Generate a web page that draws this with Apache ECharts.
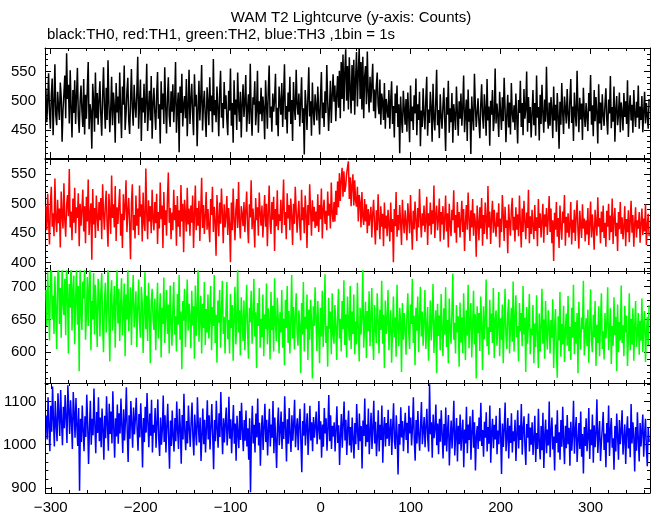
<!DOCTYPE html>
<html><head><meta charset="utf-8">
<script src="https://cdn.jsdelivr.net/npm/echarts@6/dist/echarts.min.js"></script>
<style>html,body{margin:0;padding:0;background:#fff}#c{width:652px;height:515px}</style>
</head><body><div id="c"></div>
<script>
// time of first 1-s bin (seconds)
const xStart = -305;

// TH0 (black) counts per 1-s bin
const th0 = [
521,463,498,547,480,452,509,538,441,496,562,475,458,515,489,467,531,506,430,484,
512,543,470,581,503,527,461,552,488,437,518,479,535,460,507,556,474,445,499,526,
483,455,537,442,510,469,521,566,451,494,481,418,529,500,447,548,470,513,459,502,
533,476,440,508,557,489,452,522,467,569,495,446,485,541,458,514,491,428,530,480,
507,461,548,484,436,524,493,560,450,477,516,539,466,443,499,554,486,457,527,492,
471,513,575,452,494,536,431,505,480,529,462,498,563,448,488,517,466,542,435,495,
522,478,450,509,549,469,494,427,533,485,512,460,557,491,444,503,540,474,455,516,
481,528,463,499,566,445,488,514,412,524,479,546,456,493,508,470,537,439,490,553,
460,500,529,476,441,545,490,510,422,484,534,466,503,561,449,494,517,472,438,523,
497,458,540,482,509,446,571,475,501,463,524,489,439,512,551,471,496,453,532,486,
509,468,441,517,483,555,457,496,428,535,476,502,450,548,491,464,515,437,494,528,
472,498,544,447,486,511,460,563,480,440,506,493,533,458,484,551,445,499,477,522,
465,507,486,434,535,495,452,516,560,471,490,447,512,481,500,546,458,488,439,524,
497,476,530,455,504,562,468,491,444,514,481,541,460,501,431,532,487,467,553,494,
476,512,456,496,540,462,487,408,518,492,450,506,557,473,499,440,531,482,458,511,
490,466,524,483,442,505,549,470,497,455,516,479,561,500,448,487,534,462,508,545,
498,526,465,509,542,488,551,470,566,503,579,482,548,588,500,559,485,574,520,478,
561,500,570,476,537,583,490,549,590,503,566,485,575,470,540,559,494,584,515,480,
541,497,528,563,482,519,470,524,548,493,477,536,459,512,498,467,530,452,503,486,
471,518,452,500,533,460,491,437,512,479,526,455,494,410,507,468,445,517,486,459,
503,447,514,474,429,526,465,490,450,509,478,538,441,494,467,515,422,483,455,521,
476,451,502,541,440,485,462,515,488,430,529,471,449,497,553,458,484,436,511,474,
452,490,522,466,414,506,476,534,445,487,463,513,428,494,474,450,524,480,440,499,
469,512,457,488,543,446,477,502,431,519,464,486,409,507,473,449,546,492,455,481,
504,463,436,492,528,474,452,511,484,440,537,466,490,423,500,476,518,448,470,555,
461,495,474,438,515,481,450,506,465,539,488,429,477,510,454,497,442,530,478,463,
492,450,512,472,427,501,479,534,455,496,441,520,469,485,550,447,506,462,489,437,
478,518,458,496,440,543,471,489,432,510,460,527,480,445,502,464,558,475,452,497,
457,506,484,436,524,466,493,447,513,474,418,498,459,530,480,443,507,487,461,520,
477,452,501,537,462,490,431,514,479,456,551,484,446,505,468,495,433,522,476,455,
496,473,448,513,482,544,459,492,439,518,465,506,478,427,528,461,497,450,511,476,
457,494,521,468,442,502,478,542,453,489,464,524,430,485,508,458,476,514,446,497,
481,449,513,472,499,460,535,438,488,509,466,493,445,518,477,455,498,471,526,452,
490,467,508,446,480,515,461,496,473,452,503
];

// TH1 (red)
const th1 = [
496,455,517,470,431,500,529,461,484,445,543,474,452,507,467,492,426,521,480,458,
535,472,444,498,515,479,559,460,487,438,509,468,527,450,494,476,518,428,500,463,
490,524,453,496,433,512,470,541,447,482,501,405,525,465,493,442,514,478,454,503,
472,510,440,533,484,456,497,522,465,427,517,485,449,548,476,499,460,530,437,494,
466,498,525,446,483,425,516,472,495,540,452,487,510,466,406,500,533,455,481,441,
514,463,492,447,531,478,499,436,519,468,454,560,484,440,506,470,496,450,524,475,
455,503,467,517,432,486,458,536,474,497,425,520,464,489,446,509,553,468,493,440,
485,455,524,472,498,429,513,461,489,444,532,470,500,418,507,483,453,527,465,492,
446,497,468,514,425,482,531,455,493,463,505,437,488,544,459,498,449,479,520,456,
491,461,435,508,481,529,452,495,470,412,515,476,445,502,466,526,484,433,499,460,
480,513,447,493,465,401,502,455,526,473,438,490,508,459,537,470,441,496,482,462,
503,452,488,521,463,433,499,477,540,457,492,467,426,510,472,494,446,519,484,463,
497,443,480,515,461,500,428,485,531,467,449,503,473,512,420,491,462,523,455,482,
471,507,450,492,541,464,486,440,518,475,498,455,509,480,430,500,466,529,488,451,
482,505,461,438,524,472,494,450,514,483,425,498,464,533,488,446,506,470,495,459,
487,462,516,452,498,474,526,441,491,507,466,488,455,521,480,500,458,536,484,469,
503,470,522,481,538,494,552,505,540,561,512,555,520,530,550,562,572,508,545,496,
532,550,497,540,505,495,529,470,515,503,460,520,478,464,508,470,499,450,491,463,
462,495,443,482,507,464,431,489,455,516,472,440,496,461,483,428,502,458,480,445,
490,466,436,502,452,474,401,491,462,520,444,481,455,498,468,430,507,471,450,489,
468,438,501,476,450,515,467,422,488,457,504,472,437,493,460,525,477,443,484,463,
497,452,472,512,430,484,463,502,448,489,466,531,442,480,497,455,474,509,436,486,
465,496,439,476,514,453,484,426,500,466,445,490,472,523,451,481,434,503,460,486,
443,474,505,452,491,420,468,498,456,519,475,437,489,460,508,446,484,470,410,497,
468,438,494,458,510,429,481,449,502,471,440,530,460,487,432,476,505,451,490,463,
444,485,461,501,426,475,452,515,480,437,495,459,472,416,499,466,446,489,510,455,
478,436,494,456,482,445,514,467,426,492,452,505,470,440,485,459,524,433,479,449,
490,462,440,498,454,477,428,508,459,484,443,471,500,434,482,461,493,447,475,513,
452,492,433,472,403,485,456,503,444,476,425,497,462,439,487,467,515,429,478,451,
484,443,464,503,431,473,451,490,437,478,506,455,424,488,465,442,499,458,475,436,
472,448,493,430,465,504,443,482,456,422,490,467,446,511,461,476,433,487,452,497,
442,468,427,488,461,500,438,480,452,509,432,474,493,445,468,420,486,457,503,449,
477,440,462,496,428,474,452,489,435,470,505,451,481,427,466,494,443,472,458,486,
434,467,492,447,475,453,499,430,464,483,445
];

// TH2 (green)
const th2 = [
695,640,722,671,618,705,742,650,686,628,716,664,605,709,752,643,698,622,730,676,
657,712,626,735,690,598,704,668,748,633,693,717,612,681,726,642,701,571,732,663,
634,708,682,729,619,659,715,640,697,740,603,678,650,721,627,703,667,608,712,687,
624,690,721,643,600,675,706,630,666,735,648,586,686,710,633,661,701,607,678,726,
644,697,617,672,713,626,660,705,594,688,650,730,632,667,699,611,680,718,638,659,
693,608,667,711,645,622,700,676,599,656,722,635,686,617,706,664,583,677,697,651,
634,682,603,660,706,621,651,690,592,668,643,714,614,658,695,628,673,598,702,649,
610,665,707,627,655,601,689,642,718,619,662,574,678,648,697,608,659,711,633,674,
655,606,694,641,670,590,702,625,660,731,616,652,686,598,674,637,707,611,666,630,
688,621,651,701,603,669,640,718,614,657,584,679,645,695,607,664,709,628,654,598,
663,707,620,649,598,689,637,672,587,656,700,612,645,730,630,664,595,684,650,617,
679,603,656,703,632,590,668,646,694,613,653,712,624,661,576,675,640,698,607,651,
623,688,594,658,635,705,612,667,648,589,692,634,671,601,713,642,617,683,653,598,
661,630,695,607,651,580,680,637,701,614,663,598,646,718,621,669,604,655,690,629,
610,664,641,568,675,627,707,601,654,636,688,588,665,619,680,648,560,670,640,699,
651,602,678,634,583,668,624,694,608,647,719,614,640,578,683,636,662,597,690,626,
613,672,641,588,656,697,621,651,601,678,635,710,611,658,592,685,644,618,701,605,
662,628,688,597,647,612,706,635,586,668,627,654,727,607,642,677,591,663,632,693,
609,652,698,621,588,672,639,614,690,650,598,665,634,709,613,657,576,679,628,646,
695,603,642,664,584,633,685,623,653,593,703,638,609,668,647,570,675,619,660,636,
596,657,690,630,605,673,643,712,614,656,580,668,633,685,600,651,700,624,662,610,
648,695,605,638,669,587,631,679,618,652,704,599,641,664,568,674,625,656,603,689,
637,594,667,627,699,608,649,583,682,636,613,661,720,619,645,598,672,630,655,578,
676,615,653,599,690,634,588,664,625,703,606,648,675,592,641,694,612,658,560,670,
629,660,602,685,641,573,670,620,650,711,609,638,596,680,631,659,614,698,591,648,
664,610,641,692,594,652,619,673,583,644,697,625,605,658,681,598,638,668,616,708,
601,651,687,623,640,586,675,632,660,609,701,627,653,570,669,613,645,689,597,636,
626,672,583,644,608,687,629,576,659,601,639,697,613,650,590,678,630,604,664,640,
598,649,622,681,576,637,666,606,561,655,618,692,593,643,612,671,585,634,659,610,
686,602,639,588,668,622,703,597,646,613,660,568,677,628,604,653,635,709,595,627,
652,609,665,584,636,696,617,600,657,623,678,579,642,614,670,594,645,690,605,632,
589,660,621,643,699,603,630,667,582,640,610,684,626,654,571,673,600,646,618,702,
614,641,594,671,630,656,579,622,690,603,651,612,667,587,638,678,608,629,660,596,
648,618,682,600,642,663,585,631,654,611,672
];

// TH3 (blue)
const th3 = [
1068,1012,1110,1043,985,1090,1030,1135,1058,996,1101,1047,1008,1119,1070,1020,1127,1052,999,1088,
1038,1115,1062,1004,1138,1081,1025,1103,1055,990,1122,1072,1016,1108,1044,997,1085,893,1060,1006,
1091,1031,985,1066,1018,1116,1050,955,1035,1102,1000,1060,1022,1130,1045,980,1076,1027,1110,1008,
1063,994,1084,1036,965,1067,1015,1112,1047,986,1095,1025,1077,1003,1124,1038,970,1061,1019,1093,
1002,1073,1026,1107,1043,981,1082,1010,1054,1133,1030,960,1068,1014,1101,1048,993,1086,1024,1059,
1109,1035,986,1071,1017,1096,1040,947,1062,1006,1088,1028,1120,1050,994,1072,1021,1104,982,1046,
1028,1085,993,1049,1105,1013,974,1063,1000,1036,1114,1006,1068,982,1043,1095,1016,944,1056,997,
1079,1020,984,1062,1008,1100,1033,990,1083,1040,956,1069,1012,1118,1030,987,1055,1003,1091,1037,
995,1052,1098,1016,975,1070,1032,998,1110,1045,1005,1063,962,1022,1084,1001,1058,982,1038,1103,
1012,1068,989,1042,1094,1020,943,1057,1008,1102,1037,993,1073,1018,1122,1041,978,1061,1005,1050,
1086,998,1030,1111,1014,1059,980,1040,1092,1002,1049,963,1067,1026,992,1078,1011,1097,1034,985,
1057,1009,1079,996,1038,965,1061,890,1025,1090,1003,1046,982,1072,1017,1107,998,1051,951,1031,
1068,988,1041,1095,1006,1058,975,1035,1083,996,1047,1016,1101,980,1063,1012,946,1042,1086,999,
1032,1077,990,1053,1013,1112,1037,961,1059,1002,1085,1023,983,1068,1009,1048,1104,994,1036,1061,
987,1045,1083,1006,936,1055,1021,1096,998,1040,1073,976,1030,1090,1010,1052,985,1064,1016,1043,
1077,1001,1032,1101,1012,1054,970,1047,995,1085,1026,1061,986,1038,1115,1008,1068,990,1044,1019,
1052,984,1036,1089,1004,1045,953,1024,1071,993,1049,1100,1010,1058,976,1035,1079,998,1041,982,
1063,1013,968,1050,1001,1094,1030,988,1072,1008,1043,945,1056,1020,1107,996,1047,1006,1084,978,
1029,1074,990,1039,1102,1003,1053,973,1018,1080,984,1046,1011,1091,958,1036,1064,996,1050,1014,
1081,997,1033,1060,976,1041,1096,1007,990,1068,1022,931,1048,1000,1087,1017,1055,985,1035,1074,
1011,1051,980,1090,1026,1063,998,1039,1110,1014,963,1057,1003,1078,1023,986,1046,1099,1001,1032,
1064,994,1042,1083,1013,984,1140,1024,1052,970,1070,1015,1036,1093,999,1049,978,1060,1007,1080,
1025,968,1048,998,1086,984,1033,1069,952,1014,1056,991,1037,1102,975,1022,1062,961,1044,1001,
1070,986,1027,1058,948,1035,1003,1088,980,1047,1011,1066,965,1030,1081,993,1052,940,1019,1043,
990,1063,1008,1097,997,1034,972,1053,1016,1075,984,1041,1002,1091,958,1029,1060,992,1046,1012,
1067,978,1033,1001,1085,1020,932,1049,995,1037,1098,985,1018,1062,968,1044,1004,1073,982,1031,
1008,1058,962,1026,1080,991,1045,1011,1094,977,1036,1066,997,953,1048,1016,1072,984,1040,1000,
1052,976,1016,1067,960,1027,990,1083,1002,966,1043,987,1074,946,1021,1058,980,1035,998,1100,
971,1031,1063,989,1019,940,1047,1004,1080,982,1029,965,1057,995,1088,1011,955,1044,992,1069,
1001,1039,951,1053,986,1022,1102,979,1033,1064,960,1009,1050,990,1077,972,1025,933,1041,997,
1061,985,1017,1085,967,1035,999,1070,958,1045,994,1028,1105,981,1020,1055,962,1007,1040,1076,
988,1026,948,1050,1005,1091,974,1034,1062,993,1015,942,1043,984,1072,1019,965,1057,1001,1032,
1080,977,1012,1047,955,1029,1066,991,1038,971,1094,1003,1052,1018,938,1041,986,1075,1013,961,
1050,996,1033,1070,972,1024,1060,992,950,1040,1006
];

const titleText = 'WAM T2 Lightcurve (y-axis: Counts)';
const subtitleText = 'black:TH0, red:TH1, green:TH2, blue:TH3 ,1bin = 1s';
const seriesNames = ['TH0', 'TH1', 'TH2', 'TH3'];
const seriesData = [th0, th1, th2, th3];

// ---- layout / style (not data) ----
const FONT = '"Liberation Sans", Helvetica, Arial, sans-serif';
const colors = ['#000000', '#ff0000', '#00ff00', '#0000ff'];
const gridTops = [48, 159, 271, 383];
const gridHeights = [110, 112, 112, 111];
const yMin = [402, 386, 553, 888];
const yMax = [590, 576, 724, 1143];
const ySplit = [4, 4, 4, 2];
const xMin = -306, xMax = 366;

const chart = echarts.init(document.getElementById('c'), null, {renderer: 'canvas'});

const grids = [], xAxes = [], yAxes = [], series = [];
const axisLine = {show: true, onZero: false, lineStyle: {color: '#000', width: 1}};
for (let i = 0; i < 4; i++) {
  grids.push({left: 45, right: 2, top: gridTops[i], height: gridHeights[i], containLabel: false});
  const xCommon = {
    gridIndex: i, type: 'value', min: xMin, max: xMax, splitNumber: 7,
    axisLine: axisLine,
    axisTick: {show: true, inside: true, length: 6, lineStyle: {color: '#000'}},
    minorTick: {show: true, splitNumber: 5, length: 3, lineStyle: {color: '#000'}},
    splitLine: {show: false}, minorSplitLine: {show: false}
  };
  xAxes.push(Object.assign({}, xCommon, {
    position: 'bottom',
    axisLabel: {show: i === 3, color: '#000', fontSize: 15, fontFamily: FONT, margin: 7,
      showMinLabel: false, showMaxLabel: false,
      formatter: v => String(v).replace('-', '\u2212')}
  }));
  xAxes.push(Object.assign({}, xCommon, {position: 'top', axisLabel: {show: false}}));
  const yCommon = {
    gridIndex: i, type: 'value', min: yMin[i], max: yMax[i], splitNumber: ySplit[i],
    axisLine: axisLine,
    axisTick: {show: true, inside: true, length: 6, lineStyle: {color: '#000'}},
    minorTick: {show: true, splitNumber: 5, length: 3, lineStyle: {color: '#000'}},
    splitLine: {show: false}, minorSplitLine: {show: false}
  };
  yAxes.push(Object.assign({}, yCommon, {
    position: 'left',
    axisLabel: {show: true, color: '#000', fontSize: 15, fontFamily: FONT, margin: 9,
      showMinLabel: false, showMaxLabel: false, formatter: v => String(v)}
  }));
  yAxes.push(Object.assign({}, yCommon, {position: 'right', axisLabel: {show: false}}));

  series.push({
    name: seriesNames[i], type: 'line', xAxisIndex: 2 * i, yAxisIndex: 2 * i,
    data: seriesData[i].map((v, k) => [xStart + k, v]),
    showSymbol: false, symbol: 'none', clip: true,
    lineStyle: {color: colors[i], width: 1.5},
    itemStyle: {color: colors[i]},
    animation: false
  });
}

chart.setOption({
  backgroundColor: '#ffffff',
  animation: false,
  graphic: [
    {type: 'text', x: 351, y: 18, style: {text: titleText, fill: '#000', font: '15px ' + FONT, textAlign: 'center', textVerticalAlign: 'middle'}},
    {type: 'text', x: 47, y: 35, style: {text: subtitleText, fill: '#000', font: '15px ' + FONT, textAlign: 'left', textVerticalAlign: 'middle'}}
  ],
  grid: grids,
  xAxis: xAxes,
  yAxis: yAxes,
  series: series
});
</script>
</body></html>
